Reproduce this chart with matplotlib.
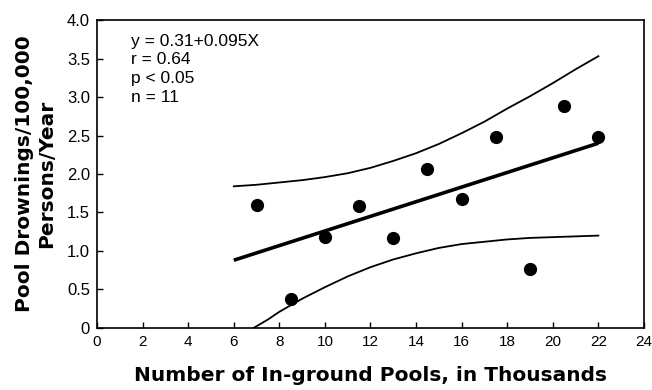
import matplotlib.pyplot as plt
import numpy as np

plt.rcParams['font.family'] = ['Liberation Sans', 'DejaVu Sans']

# observed points: pools (thousands) vs drownings per 100,000
pools = [7.0, 8.5, 10.0, 11.5, 13.0, 14.5, 16.0, 17.5, 19.0, 20.5, 22.0]
drownings = [1.6, 0.38, 1.18, 1.58, 1.17, 2.07, 1.67, 2.48, 0.77, 2.88, 2.48]

# regression y = a + b*x, drawn over 6..22
intercept = 0.31
slope = 0.095
fit_x = [6, 22]

# confidence band
upper_x = [6, 7, 8, 9, 10, 11, 12, 13, 14, 15, 16, 17, 18, 19, 20, 21, 22]
upper_y = [1.84, 1.86, 1.89, 1.92, 1.96, 2.01, 2.08, 2.17, 2.27, 2.39,
           2.53, 2.68, 2.85, 3.01, 3.18, 3.36, 3.53]
lower_x = [6.87, 7.5, 8, 9, 10, 11, 12, 13, 14, 15, 16, 17, 18, 19, 20, 21, 22]
lower_y = [0.0, 0.11, 0.21, 0.38, 0.53, 0.67, 0.79, 0.89, 0.97, 1.04,
           1.09, 1.12, 1.15, 1.17, 1.18, 1.19, 1.20]

x_ticks = list(range(0, 25, 2))
y_ticks = [0, 0.5, 1.0, 1.5, 2.0, 2.5, 3.0, 3.5, 4.0]
y_labels = ['0', '0.5', '1.0', '1.5', '2.0', '2.5', '3.0', '3.5', '4.0']

fig = plt.figure(figsize=(6.52, 3.9), dpi=100)
ax = fig.add_axes([0.1488, 0.159, 0.8389, 0.7897])

fx = np.array(fit_x)
ax.plot(fx, intercept + slope * fx, color='black', lw=2.6, solid_capstyle='butt')
ax.plot(upper_x, upper_y, color='black', lw=1.3, solid_joinstyle='round')
ax.plot(lower_x, lower_y, color='black', lw=1.3, solid_joinstyle='round')
ax.plot(pools, drownings, 'o', color='black', markersize=8.5)

ax.set_xlim(0, 24)
ax.set_ylim(0, 4.0)
ax.set_xticks(x_ticks)
ax.set_yticks(y_ticks)
ax.set_yticklabels(y_labels)
ax.tick_params(direction='in', length=4, width=1)
ax.tick_params(axis='x', labelsize=11, pad=5)
ax.tick_params(axis='y', labelsize=12, pad=5)
for s in ax.spines.values():
    s.set_linewidth(1.2)

bold = dict(family='DejaVu Sans', fontsize=14.5, fontweight='bold')
ax.set_xlabel('Number of In-ground Pools, in Thousands', labelpad=12, **bold)
ax.set_ylabel('Pool Drownings/100,000\nPersons/Year', labelpad=8,
              linespacing=1.2, **bold)

stats = 'y = 0.31+0.095X\nr = 0.64\np < 0.05\nn = 11'
ax.text(0.063, 0.955, stats, transform=ax.transAxes, fontsize=12.5,
        va='top', ha='left', linespacing=1.3)

fig.savefig('out.png', dpi=100)
